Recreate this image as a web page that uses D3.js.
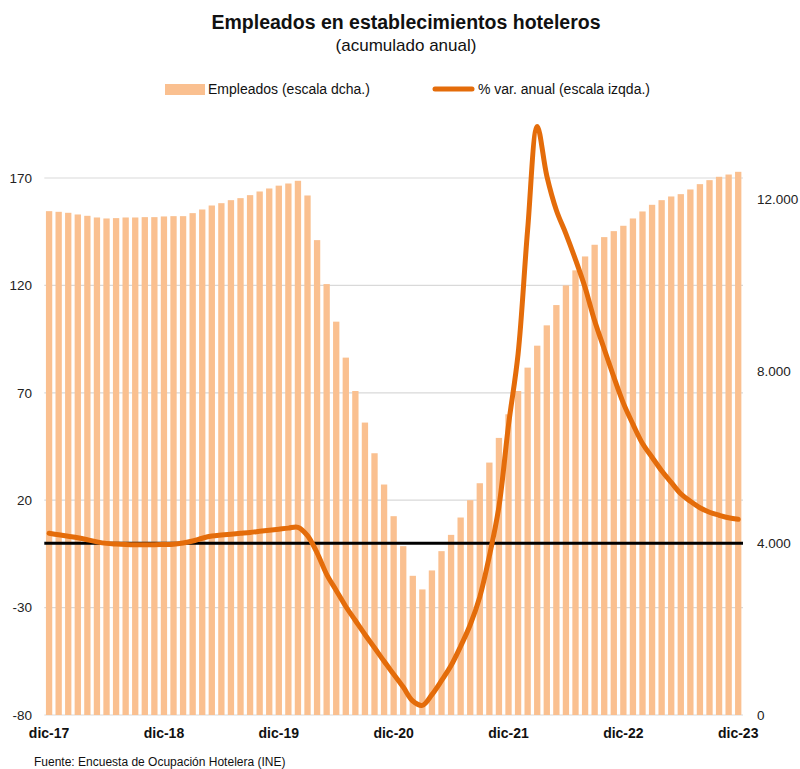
<!DOCTYPE html>
<html>
<head>
<meta charset="utf-8">
<script src="https://cdn.jsdelivr.net/npm/d3@7"></script>
<style>
  html, body { margin: 0; padding: 0; background: #fff; }
  svg { display: block; font-family: "Liberation Sans", Arial, Helvetica, sans-serif; }
</style>
</head>
<body>
<svg id="chart" width="800" height="769"></svg>
<script>
const months = [
  "dic-17","ene-18","feb-18","mar-18","abr-18","may-18","jun-18","jul-18","ago-18","sep-18","oct-18","nov-18",
  "dic-18","ene-19","feb-19","mar-19","abr-19","may-19","jun-19","jul-19","ago-19","sep-19","oct-19","nov-19",
  "dic-19","ene-20","feb-20","mar-20","abr-20","may-20","jun-20","jul-20","ago-20","sep-20","oct-20","nov-20",
  "dic-20","ene-21","feb-21","mar-21","abr-21","may-21","jun-21","jul-21","ago-21","sep-21","oct-21","nov-21",
  "dic-21","ene-22","feb-22","mar-22","abr-22","may-22","jun-22","jul-22","ago-22","sep-22","oct-22","nov-22",
  "dic-22","ene-23","feb-23","mar-23","abr-23","may-23","jun-23","jul-23","ago-23","sep-23","oct-23","nov-23",
  "dic-23"
];

// Empleados (escala dcha.)
const empleados = [
  11728, 11713, 11690, 11651, 11620, 11581, 11558, 11566, 11581, 11581, 11589, 11589,
  11605, 11612, 11612, 11682, 11767, 11860, 11914, 11984, 12031, 12101, 12186, 12256,
  12322, 12372, 12435, 12093, 11054, 10031, 9156, 8319, 7542, 6807, 6093, 5365,
  4628, 3930, 3240, 2923, 3365, 3814, 4193, 4597, 5000, 5395, 5876, 6450,
  7000, 7542, 8086, 8597, 9070, 9542, 10000, 10350, 10674, 10946, 11124, 11263,
  11388, 11558, 11721, 11876, 11984, 12070, 12124, 12233, 12357, 12450, 12528, 12581,
  12644
];

// % var. anual (escala izqda.)
const variacion = [
  4.6, 3.9, 3.2, 2.5, 1.6, 0.6, -0.1, -0.4, -0.6, -0.7, -0.7, -0.7,
  -0.6, -0.5, 0.1, 1.0, 2.3, 3.3, 3.8, 4.2, 4.6, 5.0, 5.5, 6.0,
  6.5, 7.0, 7.4, 3.5, -4.5, -14.5, -22, -29.5, -36, -42.5, -48.7, -55,
  -61, -67, -73.5, -75.5, -70.5, -64, -57, -48, -38, -25, -6, 17,
  55, 88, 146, 194, 171, 155, 144, 132, 119, 103.5, 90.4, 77.4,
  65.2, 55.4, 46.4, 40, 33.7, 28.3, 23, 19.5, 16.5, 14.4, 13, 11.8,
  11.1
];

const leftTicks = [-80, -30, 20, 70, 120, 170];
const rightTicks = [0, 4000, 8000, 12000];
const xTickLabels = ["dic-17","dic-18","dic-19","dic-20","dic-21","dic-22","dic-23"];

const title = "Empleados en establecimientos hoteleros";
const subtitle = "(acumulado anual)";
const legendBars = "Empleados (escala dcha.)";
const legendLine = "% var. anual (escala izqda.)";
const source = "Fuente: Encuesta de Ocupación Hotelera (INE)";

const BAR_COLOR = "#FAC090";
const LINE_COLOR = "#E46C0A";

const svg = d3.select("#chart");
const plotLeft = 44.3, plotRight = 743, plotBottom = 715, y170 = 178;

const x = d3.scaleBand().domain(months).range([plotLeft, plotRight])
  .paddingInner(0.34).paddingOuter(0.17);
const yL = d3.scaleLinear().domain([-80, 170]).range([plotBottom, y170]);
const yR = d3.scaleLinear().domain([0, 12500]).range([plotBottom, y170]);

// gridlines
svg.append("g").selectAll("line").data(leftTicks).join("line")
  .attr("x1", plotLeft).attr("x2", plotRight)
  .attr("y1", d => yL(d)).attr("y2", d => yL(d))
  .attr("stroke", "#d9d9d9").attr("stroke-width", 1.2);

// bars
svg.append("g").selectAll("rect").data(empleados).join("rect")
  .attr("x", (d, i) => x(months[i]))
  .attr("width", x.bandwidth())
  .attr("y", d => yR(d))
  .attr("height", d => yR(0) - yR(d))
  .attr("fill", BAR_COLOR);

// zero line
svg.append("line")
  .attr("x1", plotLeft).attr("x2", plotRight)
  .attr("y1", yL(0)).attr("y2", yL(0))
  .attr("stroke", "#000").attr("stroke-width", 3);

// line
const line = d3.line()
  .x((d, i) => x(months[i]) + x.bandwidth() / 2)
  .y(d => yL(d))
  .curve(d3.curveCatmullRom.alpha(0.5));
svg.append("path").datum(variacion)
  .attr("d", line)
  .attr("fill", "none")
  .attr("stroke", LINE_COLOR)
  .attr("stroke-width", 5)
  .attr("stroke-linecap", "round")
  .attr("stroke-linejoin", "round");

// left axis labels
svg.append("g").selectAll("text").data(leftTicks).join("text")
  .attr("x", 32).attr("y", d => yL(d))
  .attr("dy", "0.35em")
  .attr("text-anchor", "end")
  .attr("font-size", 13.5).attr("fill", "#222")
  .text(d => String(d));

// right axis labels
const fmtR = d => d === 0 ? "0" : d3.format(",")(d).replace(/,/g, ".");
svg.append("g").selectAll("text").data(rightTicks).join("text")
  .attr("x", 757).attr("y", d => yR(d))
  .attr("dy", "0.35em")
  .attr("text-anchor", "start")
  .attr("font-size", 13.5).attr("fill", "#222")
  .text(fmtR);

// x axis labels
svg.append("g").selectAll("text").data(xTickLabels).join("text")
  .attr("x", d => x(d) + x.bandwidth() / 2)
  .attr("y", 738)
  .attr("text-anchor", "middle")
  .attr("font-size", 14).attr("font-weight", "bold").attr("fill", "#111")
  .text(d => d);

// title
svg.append("text").attr("x", 406).attr("y", 29)
  .attr("text-anchor", "middle").attr("font-size", 19.5).attr("font-weight", "bold")
  .attr("fill", "#111").text(title);
svg.append("text").attr("x", 406).attr("y", 51)
  .attr("text-anchor", "middle").attr("font-size", 17)
  .attr("fill", "#111").text(subtitle);

// legend
svg.append("rect").attr("x", 165).attr("y", 84).attr("width", 40).attr("height", 11)
  .attr("fill", BAR_COLOR);
svg.append("text").attr("x", 208).attr("y", 94).attr("font-size", 14)
  .attr("fill", "#111").text(legendBars);
svg.append("line").attr("x1", 435).attr("x2", 472).attr("y1", 89).attr("y2", 89)
  .attr("stroke", LINE_COLOR).attr("stroke-width", 5).attr("stroke-linecap", "round");
svg.append("text").attr("x", 478).attr("y", 94).attr("font-size", 14)
  .attr("fill", "#111").text(legendLine);

// source
svg.append("text").attr("x", 34).attr("y", 766).attr("font-size", 12)
  .attr("fill", "#111").text(source);
</script>
</body>
</html>
